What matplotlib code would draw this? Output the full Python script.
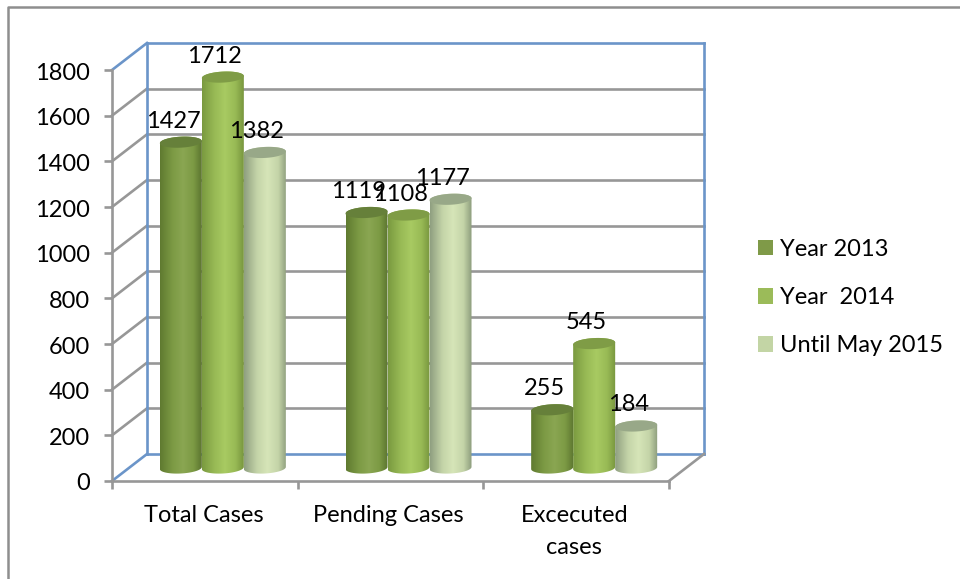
import numpy as np
import matplotlib
matplotlib.use("Agg")
import matplotlib.pyplot as plt
from matplotlib.lines import Line2D
from matplotlib.patches import Patch, PathPatch
from matplotlib.path import Path
from matplotlib.transforms import Affine2D

categories = ["Total Cases", "Pending Cases", "Excecuted\ncases"]
series_names = ["Year 2013", "Year  2014", "Until May 2015"]
year_2013 = [1427, 1119, 255]
year_2014 = [1712, 1108, 545]
until_may_2015 = [1382, 1177, 184]
y_ticks = [0, 200, 400, 600, 800, 1000, 1200, 1400, 1600, 1800]

series_values = [year_2013, year_2014, until_may_2015]
legend_colors = ["#7f9a48", "#9bbb59", "#c3d5a5"]
cap_colors = ["#66803a", "#7f9c46", "#98a888"]
shades = [
    ["#5f7a30", "#7c9a44", "#8aa652", "#7c9a44", "#5c7530"],
    ["#7a9a40", "#98ba55", "#a8ca62", "#98ba55", "#78963e"],
    ["#8f9f80", "#c4d4a8", "#d6e5b8", "#c4d4a8", "#8c9c7c"],
]

plt.rcParams["font.family"] = ["Lato", "DejaVu Sans"]
FS = 17
W, H = 960, 579
GRAY = "#979797"
BLUE = "#6b95c9"
LW = 1.9

fig = plt.figure(figsize=(W / 100, H / 100), dpi=100, facecolor="white")
L, R, T, B = 112, 669, 70, 481
ax = fig.add_axes([L / W, (H - B) / H, (R - L) / W, (B - T) / H])
ax.set_xlim(0, 3)
ax.set_ylim(0, 1800)
ax.patch.set_alpha(0)

sx = 3 / (R - L)
sy = 1800 / (B - T)

# outer frame, cut off by the picture on the right and bottom
fig.add_artist(Line2D([8 / W, 8 / W, 1], [0, 1 - 7 / H, 1 - 7 / H], color="#8e8e8e", lw=1.8))

# walls
back = ax.transData + Affine2D().translate(35, 27)
mid = ax.transData + Affine2D().translate(18, 13)
for v in y_ticks:
    is_end = v in (y_ticks[0], y_ticks[-1])
    c = BLUE if is_end else GRAY
    ax.plot([0, 3], [v, v], color=c, lw=LW, transform=back, clip_on=False, zorder=1)
    end = ax.transData.transform((0, v))
    px = np.array([[end[0], end[1]], [end[0] + 35, end[1] + 27]])
    ax.plot(px[:, 0], px[:, 1], color=c, lw=LW, transform=None, clip_on=False, zorder=1)
for xv in (0, 3):
    ax.plot([xv, xv], [0, 1800], color=BLUE, lw=LW, transform=back, clip_on=False, zorder=1)
p0 = ax.transData.transform((3, 0))
ax.plot([p0[0], p0[0] + 35], [p0[1], p0[1] + 27], color=GRAY, lw=LW, transform=None,
        clip_on=False, zorder=1)


def ring(cx, y, half_w, a0, a1):
    t = np.linspace(a0, a1, 60)
    px_x = half_w / sx * np.cos(t)
    px_y = 5.5 * np.sin(t) + 0.05 * px_x
    return cx + px_x * sx, y + px_y * sy


def to_rgb_row(stops):
    rgb = np.array([matplotlib.colors.to_rgb(c) for c in stops])
    u = np.linspace(0, 1, 120)
    pos = np.array([0, 0.3, 0.55, 0.8, 1])
    return np.stack([np.interp(u, pos, rgb[:, k]) for k in range(3)], axis=1)[None, :, :]


bw = 42 * sx
for i, values in enumerate(series_values):
    for j, v in enumerate(values):
        cx = j + 0.5 + (i - 1) * bw
        xt, yt = ring(cx, v, bw / 2, 0, np.pi)
        xb, yb = ring(cx, 0, bw / 2, np.pi, 2 * np.pi)
        verts = np.column_stack([np.r_[xt, xb], np.r_[yt, yb]])
        path = Path(np.vstack([verts, verts[0]]), closed=True)
        clip = PathPatch(path, transform=mid)
        im = ax.imshow(to_rgb_row(shades[i]), extent=(cx - bw / 2, cx + bw / 2, -60, v + 60),
                       aspect="auto", transform=mid, interpolation="bilinear",
                       zorder=3 + i * 0.1 + j)
        im.set_clip_path(clip)
        xc, yc = ring(cx, v, bw / 2, 0, 2 * np.pi)
        ax.fill(xc, yc, color=cap_colors[i], lw=0, transform=mid, zorder=3.05 + i * 0.1 + j,
                clip_on=False)

ax.set_xlim(0, 3)
ax.set_ylim(0, 1800)

# data labels
for i, values in enumerate(series_values):
    for j, v in enumerate(values):
        cx = j + 0.5 + (i - 1) * bw
        ax.annotate(str(v), xy=(cx, v), xycoords=mid, xytext=(-8 * 0.72, 21 * 0.72),
                    textcoords="offset points", ha="center", va="center",
                    fontsize=FS, color="black", zorder=20, annotation_clip=False)

# axes
for s in ("top", "right"):
    ax.spines[s].set_visible(False)
for s in ("left", "bottom"):
    ax.spines[s].set_color(GRAY)
    ax.spines[s].set_linewidth(LW)
    ax.spines[s].set_zorder(2)
ax.set_yticks(y_ticks)
ax.set_yticklabels([str(v) for v in y_ticks])
ax.set_xticks([0, 1, 2, 3])
ax.set_xticklabels([])
ax.set_xticks([0.495, 1.49, 2.49], minor=True)
ax.set_xticklabels(categories, minor=True, linespacing=1.6)
ax.tick_params(axis="both", which="major", color=GRAY, width=LW, length=6, labelsize=FS)
ax.tick_params(axis="y", which="major", pad=10)
ax.tick_params(axis="x", which="minor", length=0, pad=17.5, labelsize=FS)
for lab in ax.get_yticklabels():
    lab.set_transform(lab.get_transform() + Affine2D().translate(0, -1))

handles = [Patch(facecolor=c, edgecolor="none") for c in legend_colors]
fig.legend(handles, series_names, loc="center left",
           bbox_to_anchor=(758 / W, 1 - 297.5 / H), frameon=False, fontsize=FS,
           handlelength=0.64, handleheight=0.64, handletextpad=0.3,
           labelspacing=1.15, borderpad=0, borderaxespad=0)

fig.savefig("out.png", dpi=100, facecolor="white")
